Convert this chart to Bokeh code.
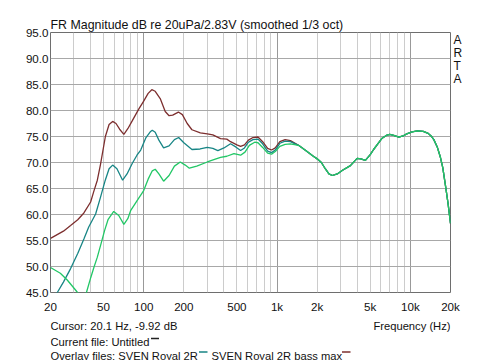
from bokeh.plotting import figure
from bokeh.layouts import column
from bokeh.models import FixedTicker, Grid, Range1d, LinearAxis, Title
from bokeh.core.properties import value
from bokeh.embed import file_html
from bokeh.resources import INLINE

# ---- data ----
x_ticks = [20, 50, 100, 200, 500, 1000, 2000, 5000, 10000, 20000]
x_tick_labels = ["20", "50", "100", "200", "500", "1k", "2k", "5k", "10k", "20k"]
y_ticks = [45, 50, 55, 60, 65, 70, 75, 80, 85, 90, 95]

brown_freq = [20, 25, 28.3, 32, 35.6, 40, 42.3, 44.9, 47.4, 51.6, 55, 58.5, 62, 66, 71, 76, 82, 92,
              100, 108, 115, 122, 133, 145, 155, 165, 182, 195, 212, 230, 266, 300, 330, 377,
              420, 448, 500, 533, 570, 610, 660, 720, 780, 850, 910, 970, 1050, 1150, 1260]
brown_db = [55.4, 56.8, 57.9, 59.0, 60.3, 62.4, 64.5, 66.6, 69.6, 75.0, 77.3, 77.9, 77.5, 76.4, 75.4,
            76.5, 78.0, 80.3, 81.8, 83.3, 84.0, 83.7, 82.3, 79.8, 79.0, 79.1, 79.7, 79.2, 77.5,
            76.3, 75.7, 75.5, 75.3, 74.6, 74.5, 74.0, 73.4, 73.1, 73.4, 74.3, 74.8, 74.9, 74.0,
            72.7, 72.4, 72.8, 74.0, 74.4, 74.2]

teal_freq = [20, 22.5, 25, 28.3, 32, 35.6, 38.7, 43.6, 47.4, 51.5, 55, 58.5, 63, 69.5, 75, 82, 89,
             95, 104, 112, 116, 122, 130, 141, 155, 170, 183, 200, 230, 265, 300, 330, 360, 400,
             448, 490, 533, 570, 610, 660, 720, 780, 850, 910, 970, 1050, 1150, 1260]
teal_db = [43.6, 45.0, 47.0, 49.6, 52.5, 55.3, 57.6, 60.1, 63.3, 66.6, 68.8, 69.5, 68.8, 66.6, 67.8,
           69.8, 71.4, 72.4, 74.8, 75.9, 76.2, 75.8, 74.3, 72.8, 73.2, 74.4, 74.8, 73.8, 72.5,
           72.6, 72.9, 72.7, 72.3, 72.8, 73.6, 73.0, 72.3, 72.8, 73.9, 74.4, 74.5, 73.6, 72.2,
           71.9, 72.4, 73.7, 74.1, 74.0]

green_freq = [20, 23.7, 26.7, 29, 31.7, 34.5, 37.2, 40, 42.3, 44.9, 48, 51, 54, 59.6, 65, 71, 76,
              80, 90, 100, 108, 116, 122, 130, 141, 155, 170, 188, 205, 220, 250, 300, 340, 377,
              420, 475, 533, 575, 620, 680, 720, 780, 850, 910, 970, 1050, 1150, 1260]
green_db = [49.8, 48.7, 47.4, 46.3, 45.1, 44.0, 45.0, 47.8, 49.8, 51.8, 54.5, 57.0, 59.0, 60.6, 59.8,
            58.1, 59.2, 60.8, 62.8, 64.6, 66.8, 68.4, 68.7, 67.8, 66.4, 67.5, 69.3, 70.1, 69.5,
            68.9, 69.3, 70.1, 70.6, 71.0, 71.2, 71.7, 71.4, 72.0, 73.3, 73.9, 73.8, 72.9, 71.8,
            71.6, 72.1, 73.1, 73.5, 73.6]

# common high-frequency part where the three curves coincide
hf_freq = [1450, 1680, 1850, 2000, 2150, 2300, 2450, 2600, 2830, 3100, 3550, 3990, 4250, 4600,
           5000, 5300, 5700, 6100, 6600, 7000, 7500, 8200, 8800, 9400, 10300, 11300, 12500,
           13600, 14300, 15000, 15900, 16800, 17500, 18400, 19200, 20000]
hf_db = [73.3, 72.1, 71.3, 70.7, 70.0, 68.8, 67.8, 67.5, 67.8, 68.5, 69.4, 70.8, 70.7, 70.4,
         71.5, 72.5, 73.6, 74.6, 75.2, 75.4, 75.2, 74.9, 75.1, 75.5, 75.9, 76.1, 76.0, 75.6,
         75.1, 74.4, 73.0, 71.0, 69.0, 65.3, 62.0, 58.3]

title_text = "FR Magnitude dB re 20uPa/2.83V (smoothed 1/3 oct)"
side_letters = ["A", "R", "T", "A"]
side_letter_pos = [93.5, 91.0, 88.5, 86.0]
footer_lines = ["Cursor: 20.1 Hz, -9.92 dB", "Current file: Untitled",
                "Overlay files: SVEN Royal 2R", "SVEN Royal 2R bass max"]
x_label = "Frequency (Hz)"

FONT = "Liberation Sans"
TXT = "#111111"
BROWN, TEAL, GREEN = "#7d2f2f", "#178585", "#22c766"

MAIN_H = 316
p = figure(width=500, height=MAIN_H, x_axis_type="log",
           x_range=Range1d(20, 20000), y_range=Range1d(45, 95),
           toolbar_location=None, output_backend="svg",
           min_border_left=50, min_border_right=50, min_border_top=32, min_border_bottom=24)
p.background_fill_color = "white"
p.border_fill_color = "white"
p.outline_line_color = "#6e6e6e"
p.outline_line_width = 1

t = Title(text=title_text, align="left", text_font=FONT, text_font_size="12.4px",
          text_font_style="normal", text_color=TXT, standoff=2, offset=0)
p.add_layout(t, "above")

# grids
p.xgrid.visible = False
p.ygrid.ticker = FixedTicker(ticks=y_ticks)
p.ygrid.grid_line_color = "#a8a8a8"
minor_freqs = [m * d for d in (10, 100, 1000, 10000) for m in range(2, 10) if 20 < m * d < 20000]
decade_freqs = [100, 1000, 10000]
g1 = Grid(dimension=0, ticker=FixedTicker(ticks=minor_freqs), grid_line_color="#cccccc")
g2 = Grid(dimension=0, ticker=FixedTicker(ticks=decade_freqs), grid_line_color="#999999")
p.renderers.extend([g1, g2])

xa = p.xaxis[0]
ya = p.yaxis[0]
# right "axis" carrying the ARTA letters
ra = LinearAxis(ticker=FixedTicker(ticks=side_letter_pos),
                major_label_overrides={v: s for v, s in zip(side_letter_pos, side_letters)})
p.add_layout(ra, "right")

for ax in (xa, ya, ra):
    ax.axis_line_color = None
    ax.major_tick_line_color = None
    ax.minor_tick_line_color = None
    ax.major_tick_out = 0
    ax.major_tick_in = 0
    ax.minor_tick_out = 0
    ax.minor_tick_in = 0
    ax.major_label_text_font = FONT
    ax.major_label_text_font_size = "11.6px"
    ax.major_label_text_color = TXT
ra.major_label_text_font_size = "12px"
ra.major_label_standoff = 3

xa.ticker = FixedTicker(ticks=x_ticks)
xa.major_label_overrides = {t: l for t, l in zip(x_ticks, x_tick_labels)}
xa.major_label_standoff = 7
ya.ticker = FixedTicker(ticks=y_ticks)
ya.major_label_overrides = {t: f"{t:.1f}" for t in y_ticks}
ya.major_label_standoff = 2

# curves
p.line(brown_freq + hf_freq, brown_db + hf_db, line_color=BROWN, line_width=1.3)
p.line(teal_freq + hf_freq, teal_db + hf_db, line_color=TEAL, line_width=1.3)
p.line(green_freq + hf_freq, green_db + hf_db, line_color=GREEN, line_width=1.3)

# footer: x in page pixels (its frame is aligned to 50..450), y from the top of the footer
FH = 360 - MAIN_H
f = figure(width=500, height=FH, x_range=Range1d(50, 450), y_range=Range1d(FH, 0),
           toolbar_location=None, output_backend="svg", min_border=0,
           min_border_left=50, min_border_right=50,
           x_axis_location=None, y_axis_location=None)
f.grid.visible = False
f.outline_line_color = None
f.background_fill_color = "white"
f.border_fill_color = "white"

base = [325 - MAIN_H, 341.5 - MAIN_H, 355 - MAIN_H]
f.text(x=[50, 50, 50, 211], y=[base[0], base[1], base[2], base[2]], text=footer_lines,
       text_font=value(FONT), text_font_size=value("11.2px"), text_color=TXT,
       text_align="left", text_baseline="alphabetic")
f.text(x=[450], y=[base[0]], text=[x_label], text_font=value(FONT), text_font_size=value("11.2px"),
       text_color=TXT, text_align="right", text_baseline="alphabetic")
dash_y = [338 - MAIN_H, 351.5 - MAIN_H, 351.5 - MAIN_H]
f.segment(x0=[150.5, 198.5, 341.5], y0=dash_y, x1=[158.5, 207, 350], y1=dash_y,
          line_color=["#222222", TEAL, BROWN], line_width=1.6)

layout = column(p, f, spacing=0)
open("out.html", "w").write(file_html(layout, INLINE))
